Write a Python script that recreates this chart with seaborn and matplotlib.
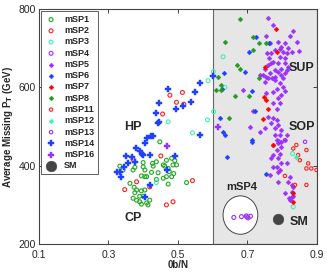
import numpy as np
import pandas as pd
import matplotlib
matplotlib.use("Agg")
import matplotlib.pyplot as plt
import seaborn as sns
from matplotlib.patches import Ellipse

# --- data (0b/N, average missing PT in GeV) ---
msp1_x = [0.448, 0.458, 0.427, 0.438, 0.400, 0.429, 0.405, 0.424, 0.443, 0.462, 0.472, 0.486,
          0.496, 0.467, 0.482, 0.491, 0.475, 0.467, 0.482, 0.488, 0.458, 0.438, 0.410, 0.395,
          0.362, 0.374, 0.381, 0.395, 0.376, 0.405, 0.390, 0.400, 0.371, 0.381, 0.390, 0.419,
          0.410, 0.414, 0.395, 0.525, 0.472, 0.333, 0.342, 0.371, 0.376, 0.400, 0.405]
msp1_y = [461, 402, 406, 410, 408, 399, 389, 383, 382, 399, 393, 402,
          402, 414, 419, 413, 385, 372, 372, 380, 368, 365, 372, 374,
          355, 345, 338, 336, 331, 338, 322, 322, 317, 312, 308, 312,
          305, 300, 302, 357, 353, 399, 389, 389, 396, 397, 372]

msp2_x = [0.451, 0.381, 0.347, 0.419, 0.467, 0.486, 0.542, 0.371, 0.477, 0.513, 0.496, 0.517, 0.456]
msp2_y = [425, 359, 339, 346, 300, 308, 362, 416, 580, 587, 562, 557, 532]

msp3_x = [0.472, 0.542, 0.585, 0.587, 0.602, 0.603, 0.438, 0.630, 0.635, 0.830, 0.832]
msp3_y = [512, 484, 517, 617, 640, 538, 357, 678, 600, 431, 295]

msp4_x = [0.661, 0.683, 0.697, 0.702, 0.709, 0.699]
msp4_y = [268, 270, 272, 267, 271, 269]

msp5_x = [0.760, 0.774, 0.755, 0.765, 0.789, 0.798, 0.808, 0.822, 0.830, 0.843, 0.817, 0.793,
          0.779, 0.769, 0.757, 0.763, 0.803, 0.813, 0.827, 0.849, 0.795, 0.808, 0.774, 0.760,
          0.750, 0.769, 0.789, 0.808, 0.817, 0.798, 0.779, 0.765, 0.745, 0.755, 0.779, 0.798,
          0.808, 0.814, 0.789, 0.736, 0.772, 0.803,
          0.750, 0.760, 0.779, 0.793, 0.803, 0.784, 0.808, 0.774, 0.755, 0.798, 0.789, 0.793,
          0.774, 0.784, 0.760, 0.774, 0.784, 0.769, 0.789, 0.779, 0.798, 0.750, 0.736, 0.779,
          0.793, 0.784, 0.798, 0.688, 0.707, 0.717, 0.808, 0.813,
          0.774, 0.789, 0.798, 0.784, 0.793, 0.774, 0.769, 0.789, 0.798, 0.813, 0.784, 0.774,
          0.793, 0.789, 0.765, 0.822, 0.817, 0.789, 0.827, 0.832, 0.827, 0.808, 0.827, 0.822,
          0.830, 0.820]
msp5_y = [776, 759, 731, 712, 717, 704, 712, 731, 745, 717, 700, 697,
          695, 687, 688, 674, 691, 687, 691, 694, 678, 674, 665, 657,
          648, 661, 661, 661, 653, 648, 644, 636, 631, 627, 627, 631,
          636, 644, 640, 631, 623, 623,
          614, 623, 619, 610, 602, 597, 591, 589, 585, 580, 572, 559,
          559, 546, 525, 521, 517, 508, 504, 495, 491, 495, 487, 478,
          478, 466, 461, 593, 500, 540, 466, 478,
          453, 457, 448, 440, 431, 427, 419, 419, 406, 406, 397, 397,
          389, 385, 376, 370, 359, 359, 351, 346, 334, 331, 321, 312,
          323, 318]

msp6_x = [0.726, 0.763, 0.704, 0.693, 0.634, 0.626, 0.712, 0.721, 0.621, 0.630, 0.635,
          0.712, 0.712, 0.640, 0.753]
msp6_y = [729, 712, 691, 640, 637, 596, 591, 540, 523, 487, 478,
          466, 461, 423, 380]

msp7_x = [0.782, 0.784, 0.750, 0.748, 0.755, 0.760, 0.745, 0.830, 0.832, 0.775]
msp7_y = [748, 691, 651, 576, 568, 544, 518, 331, 308, 452]

msp8_x = [0.680, 0.635, 0.717, 0.734, 0.715, 0.669, 0.680, 0.616, 0.623, 0.609, 0.623,
          0.664, 0.705, 0.734, 0.648, 0.753]
msp8_y = [774, 715, 728, 714, 695, 657, 647, 627, 606, 593, 593,
          578, 578, 625, 523, 712]

msp11_x = [0.841, 0.832, 0.870, 0.846, 0.851, 0.875, 0.870, 0.884, 0.899, 0.837, 0.808, 0.870]
msp11_y = [453, 444, 440, 427, 414, 406, 393, 393, 389, 351, 374, 351]

msp12_x = [0.840]
msp12_y = [421]

msp13_x = [0.808, 0.866, 0.790]
msp13_y = [465, 461, 462]

msp14_x = [0.427, 0.410, 0.405, 0.379, 0.391, 0.396, 0.400, 0.419, 0.350, 0.367, 0.376,
           0.355, 0.346, 0.333, 0.325, 0.335, 0.419, 0.405, 0.491, 0.468, 0.563,
           0.472, 0.563, 0.549, 0.446, 0.514, 0.496, 0.539, 0.437, 0.446, 0.443,
           0.424, 0.602]
msp14_y = [476, 470, 459, 444, 438, 431, 427, 427, 425, 421, 410,
           406, 396, 385, 385, 372, 351, 321, 425, 389, 478,
           595, 612, 587, 559, 552, 546, 562, 534, 512, 508,
           476, 629]

msp16_x = [0.468, 0.616]
msp16_y = [450, 500]

sm_x = [0.789]
sm_y = [263]

# (label, x, y, marker, colour, filled, size)
series = [
    ("mSP1", msp1_x, msp1_y, "o", "#22aa22", False, 8),
    ("mSP2", msp2_x, msp2_y, "o", "#ff2020", False, 8),
    ("mSP3", msp3_x, msp3_y, "o", "#40f0b0", False, 8),
    ("mSP4", msp4_x, msp4_y, "o", "#9b30ff", False, 8),
    ("mSP5", msp5_x, msp5_y, "D", "#9b30ff", True, 6),
    ("mSP6", msp6_x, msp6_y, "D", "#1e40ff", True, 6),
    ("mSP7", msp7_x, msp7_y, "D", "#ff0000", True, 6),
    ("mSP8", msp8_x, msp8_y, "D", "#229922", True, 6),
    ("mSP11", msp11_x, msp11_y, "o", "#ff2020", False, 6),
    ("mSP12", msp12_x, msp12_y, "D", "#40f0b0", True, 6),
    ("mSP13", msp13_x, msp13_y, "o", "#9b30ff", False, 6),
    ("mSP14", msp14_x, msp14_y, "P", "#1e40ff", True, 20),
    ("mSP16", msp16_x, msp16_y, "P", "#9b30ff", True, 20),
    ("SM", sm_x, sm_y, "o", "#444444", True, 60),
]

sns.set_style("ticks")
plt.rcParams['font.family'] = ['Liberation Sans', 'DejaVu Sans']

fig = plt.figure(figsize=(3.27, 2.73), dpi=100)
ax = fig.add_axes([0.119, 0.106, 0.850, 0.861])

ax.axvspan(0.6, 0.9, facecolor="#e6e6e6", edgecolor="#666666", lw=0.8, zorder=0)

for label, xs, ys, mk, col, filled, sz in series:
    df = pd.DataFrame({"x": xs, "y": ys})
    if filled:
        sns.scatterplot(data=df, x="x", y="y", ax=ax, marker=mk, s=sz, color=col,
                        edgecolor=col, linewidth=0.3, label=label, zorder=3)
    else:
        sns.scatterplot(data=df, x="x", y="y", ax=ax, marker=mk, s=sz, facecolor="none",
                        edgecolor=col, linewidth=0.8, label=label, zorder=3)

ax.add_patch(Ellipse((0.680, 274), 0.10, 98, facecolor="white", edgecolor="#444444",
                     lw=0.7, zorder=2))

ax.text(0.371, 499, "HP", fontsize=9, fontweight="bold", ha="center", va="center")
ax.text(0.371, 266, "CP", fontsize=9, fontweight="bold", ha="center", va="center")
ax.text(0.857, 649, "SUP", fontsize=9, fontweight="bold", ha="center", va="center")
ax.text(0.857, 499, "SOP", fontsize=9, fontweight="bold", ha="center", va="center")
ax.text(0.684, 346, "mSP4", fontsize=8, fontweight="bold", ha="center", va="center")
ax.text(0.848, 256, "SM", fontsize=9, fontweight="bold", ha="center", va="center")

ax.set_xlim(0.1, 0.9)
ax.set_ylim(200, 800)
ax.set_xticks([0.1, 0.3, 0.5, 0.7, 0.9])
ax.set_xticklabels(["0.1", "0.3", "0.5", "0.7", "0.9"])
ax.set_yticks([200, 400, 600, 800])
ax.tick_params(direction="in", top=True, right=True, labelsize=7.5, length=3, width=0.6)
ax.tick_params(axis="x", pad=4)
ax.tick_params(axis="y", pad=2)
for sp in ax.spines.values():
    sp.set_linewidth(0.8)
    sp.set_color("#444444")

ax.set_xlabel("0b/N", fontsize=7, fontweight="bold", labelpad=0)
ax.set_ylabel("Average Missing P$_\\mathbf{T}$ (GeV)", fontsize=7, fontweight="bold", labelpad=3)

leg = ax.legend(loc="upper left", fontsize=6.5, frameon=True, handletextpad=0.8,
                labelspacing=0.25, borderpad=0.45, handlelength=1.3,
                bbox_to_anchor=(0.008, 0.992), borderaxespad=0.0, fancybox=False)
leg.get_frame().set_edgecolor("#444444")
leg.get_frame().set_linewidth(0.6)
leg.get_frame().set_alpha(1)
for t in leg.get_texts():
    t.set_fontweight("bold")

fig.savefig("out.png", dpi=100)
